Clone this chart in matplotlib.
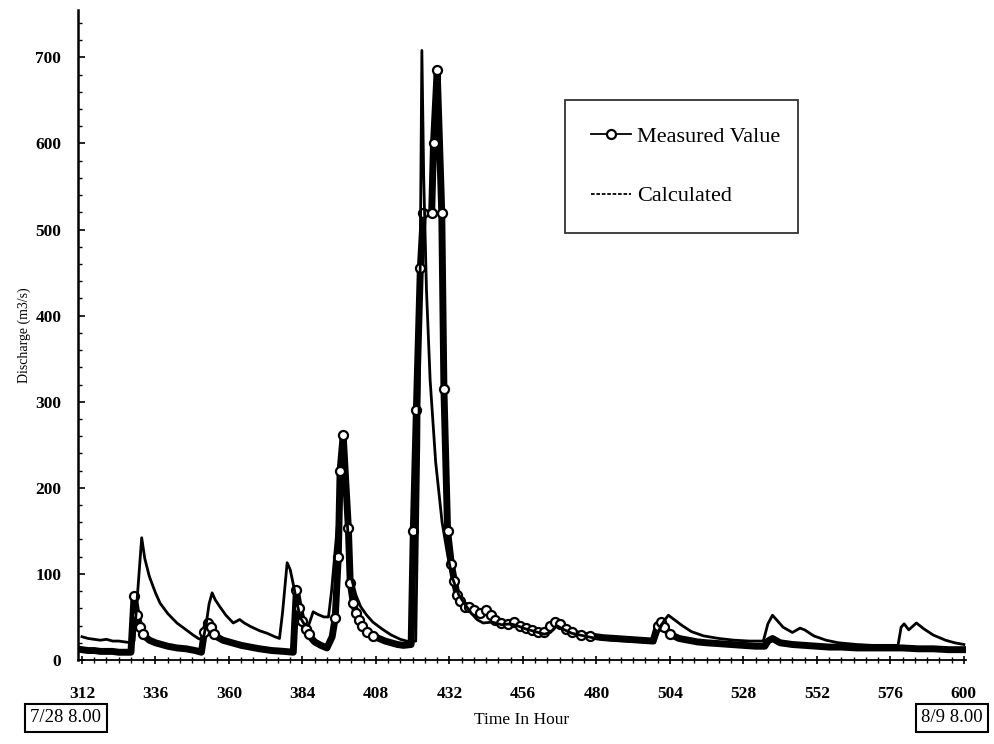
import matplotlib
matplotlib.use('Agg')
import matplotlib.pyplot as plt
from matplotlib.lines import Line2D
from matplotlib.ticker import MultipleLocator
import numpy as np

# ---------------- data ----------------
meas_hours = [312, 314, 316, 318, 320, 322, 324, 326, 328,
              329, 330, 331, 332, 333, 334, 336, 338, 340, 343, 346, 349, 351,
              352, 353, 354, 355, 356, 358, 361, 364, 367, 370, 374, 378, 381,
              382, 383, 384, 385, 386, 387, 388, 390, 392,
              393.7, 394.7, 395.7, 396.3, 397.3, 399.0, 399.6, 400.6, 401.5, 402.5, 403.5,
              405, 407, 409, 411, 413, 415, 417, 419.5,
              420.2, 421.2, 422.5, 423.5, 426.2, 426.8, 428.0, 429.5, 430.2, 431.4,
              432.6, 433.6, 434.5, 435.5, 437, 438.5, 440, 442, 444, 445.5, 447, 449,
              451, 453, 455, 457, 459, 461, 463, 465, 466.5, 468, 470, 472, 475, 478,
              482, 486, 490, 494, 498.5, 500, 501, 502, 504, 507, 510, 513, 516, 520,
              524, 528, 532, 535, 536, 537.5, 540, 544, 548, 552, 556, 560, 565, 570,
              575, 580, 585, 590, 595, 600]
meas_values = [12, 11, 11, 10, 10, 10, 9, 9, 9,
               74, 52, 38, 30, 26, 23, 20, 18, 16, 14, 13, 11, 9,
               33, 43, 38, 30, 27, 23, 20, 17, 15, 13, 11, 10, 9,
               81, 60, 45, 36, 30, 25, 21, 17, 14,
               27, 49, 120, 220, 261, 153, 90, 66, 55, 46, 40,
               33, 28, 25, 22, 20, 18, 17, 18,
               150, 290, 455, 519, 519, 600, 685, 519, 315, 150,
               112, 92, 76, 68, 62, 62, 58, 55, 58, 52, 46, 43,
               42, 44, 40, 37, 35, 33, 32, 40, 44, 42, 36, 32, 29, 28,
               26, 25, 24, 23, 22, 40, 44, 38, 30, 25, 23, 21, 20, 19,
               18, 17, 16, 16, 22, 25, 20, 18, 17, 16, 15, 15, 14, 14,
               14, 14, 13, 13, 12, 12]

calc_hours = [312, 314, 316, 318, 320, 322, 324, 326, 328, 329, 330, 331.5, 332.5,
              334, 336, 337.5, 340, 343, 346, 348.3, 350, 351.5, 352.5, 353.5, 354.5,
              355.5, 357, 359, 361.4, 363.5, 365, 367, 370, 372.5, 375, 376.5, 377.5,
              379, 380, 381, 382, 383.2, 384.5, 386, 387.5, 389, 391, 392.5, 393.5,
              394.5, 395.5, 396.5, 397.8, 398.8, 400, 401.5, 403, 405, 407, 410, 413,
              416, 419, 421, 422, 423, 423.6, 424.5, 425.7, 427.5, 429.6, 431.5, 433,
              435, 437, 439, 441, 443, 446, 449, 452, 454, 457, 460, 463, 465, 467,
              469, 472, 476, 480, 485, 490, 495, 499, 500.5, 502, 503.5, 505, 508,
              511, 515, 520, 525, 530, 534.5, 536, 537.5, 539, 541, 544, 546.5, 548,
              551, 555, 559, 565, 570, 575, 578.5, 579.5, 580.5, 582, 584.5, 587, 590,
              594, 597, 600]
calc_values = [27, 25, 24, 23, 24, 22, 22, 21, 20, 22, 70, 142, 118,
               97, 78, 66, 54, 43, 35, 29, 25, 23, 40, 65, 78,
               70, 62, 52, 43, 47, 43, 39, 34, 31, 27, 25, 55,
               113, 105, 88, 70, 50, 42, 40, 56, 53, 50, 50, 80,
               120, 160, 190, 205, 150, 95, 75, 62, 52, 44, 36, 29,
               24, 21, 22, 250, 708, 560, 430, 325, 230, 160, 120, 95,
               76, 65, 55, 47, 43, 44, 41, 42, 40, 36, 33, 30, 32, 40,
               36, 31, 28, 25, 23, 22, 21, 20, 35, 45, 52, 48, 40,
               33, 28, 25, 23, 22, 22, 42, 52, 46, 38, 32, 37, 35,
               28, 23, 20, 18, 17, 17, 17, 38, 42, 35, 43, 36, 29,
               23, 20, 18]

x_ticks = [312, 336, 360, 384, 408, 432, 456, 480, 504, 528, 552, 576, 600]
y_ticks = [0, 100, 200, 300, 400, 500, 600, 700]
start_label = "7/28 8.00"
end_label = "8/9 8.00"
legend_labels = ["Measured Value", "Calculated"]

# ---------------- figure ----------------
serif = ['Liberation Serif', 'DejaVu Serif']
plt.rcParams['font.family'] = serif

fig = plt.figure(figsize=(9.95, 7.44), dpi=100)
ax = fig.add_axes([78 / 995, 1 - 660 / 744, 888 / 995, 650 / 744])

meas = np.asarray(meas_values)
mark_idx = list(np.flatnonzero(meas >= 28))
ax.plot(meas_hours, meas_values, color='black', lw=5, solid_joinstyle='round',
        marker='o', ms=6.5, mfc='white', mec='black', mew=1.6,
        markevery=mark_idx, zorder=2)
ax.plot(calc_hours, calc_values, color='black', lw=2.0, zorder=3)

ax.set_xlim(310.7, 600.7)
ax.set_ylim(0, 755)
ax.set_xticks(x_ticks)
ax.set_yticks(y_ticks)
ax.xaxis.set_minor_locator(MultipleLocator(4))
ax.yaxis.set_minor_locator(MultipleLocator(20))

for s in ['top', 'right']:
    ax.spines[s].set_visible(False)
ax.spines['left'].set_linewidth(1.8)
ax.spines['bottom'].set_linewidth(1.3)

ax.tick_params(axis='x', which='major', direction='inout', length=6, width=1.2,
               pad=16, labelsize=12.5)
ax.tick_params(axis='x', which='minor', direction='inout', length=4, width=1)
ax.tick_params(axis='y', which='major', direction='in', length=5, width=1.2,
               pad=12, labelsize=12.5)
ax.tick_params(axis='y', which='minor', direction='in', length=3, width=1)
for lab in ax.get_xticklabels() + ax.get_yticklabels():
    lab.set_fontweight('bold')

ax.set_xlabel("Time In Hour", fontsize=12.5, labelpad=7)
ax.set_ylabel("Discharge (m3/s)", fontsize=10, labelpad=3)

handles = [Line2D([], [], color='black', lw=1.3, marker='o', ms=6.5, mfc='white',
                  mec='black', mew=1.6),
           Line2D([], [], color='black', lw=1.3, linestyle=(0, (2, 1)))]
leg = ax.legend(handles, legend_labels, loc='upper left',
                bbox_to_anchor=(0.548, 0.658, 0.263, 0.204), mode='expand',
                fontsize=16, frameon=True, fancybox=False, edgecolor='black',
                borderpad=1.2, labelspacing=1.75, handlelength=1.8,
                handletextpad=0.25, numpoints=1, borderaxespad=0)
leg.get_frame().set_linewidth(1.3)

box = dict(boxstyle='square,pad=0.3', fc='white', ec='black', lw=1.5)
fig.text(66 / 995, 1 - 718 / 744, start_label, ha='center', va='center',
         fontsize=13.5, bbox=box)
fig.text(952 / 995, 1 - 718 / 744, end_label, ha='center', va='center',
         fontsize=13.5, bbox=box)

fig.savefig('out.png', dpi=100)
